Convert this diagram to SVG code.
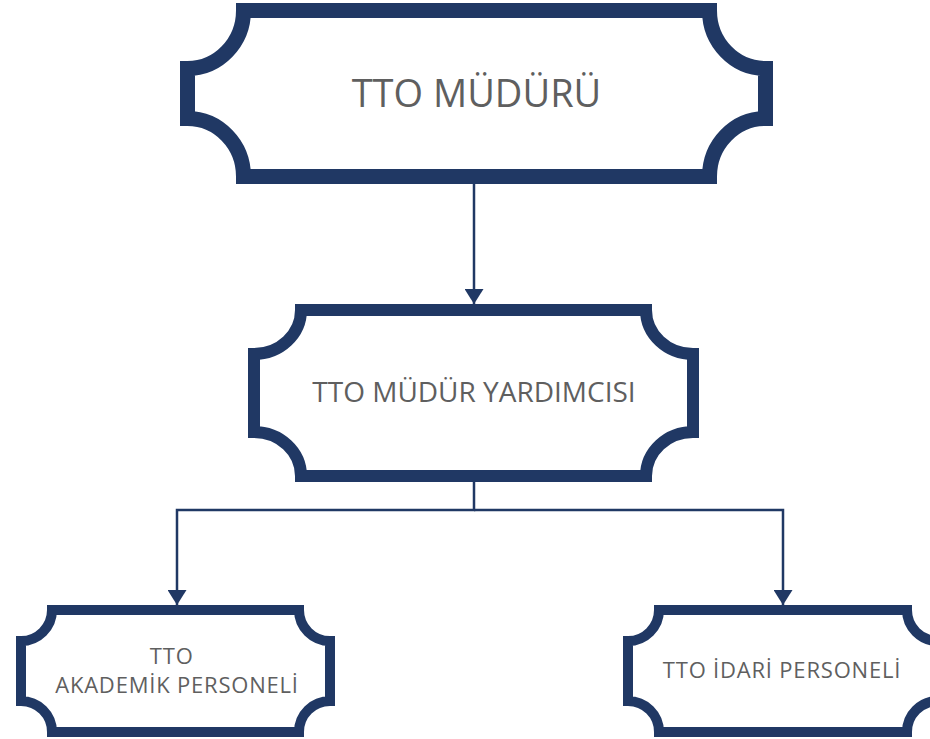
<svg xmlns="http://www.w3.org/2000/svg" width="930" height="739" viewBox="0 0 930 739">
  <style>
    .plaque { fill: #ffffff; stroke: #203864; stroke-linejoin: miter; }
    .conn { fill: none; stroke: #203864; stroke-width: 2.5; }
    .lbl { font-family: "Open Sans", "Noto Sans", "DejaVu Sans", sans-serif; fill: #5f5f5f; text-anchor: middle; }
  </style>
  <defs>
    <marker id="arrow" viewBox="0 0 15 19" markerWidth="15" markerHeight="19" refX="15" refY="9.5" orient="auto" markerUnits="userSpaceOnUse">
      <path d="M0,0 L15,9.5 L0,19 Z" fill="#203864"/>
    </marker>
  </defs>
  <rect width="930" height="739" fill="#ffffff"/>
  <g id="connectors">
    <path class="conn" d="M474,184 V304" marker-end="url(#arrow)"/>
    <path class="conn" d="M474,482 V510 H177 V605" marker-end="url(#arrow)"/>
    <path class="conn" d="M474,510 H783 V605" marker-end="url(#arrow)"/>
  </g>
  <g id="node-mudur">
    <path class="plaque" stroke-width="15" d="M243.5,10.5 H709.5 A56 58 0 0 0 765.5,68.5 V118.5 A56 58 0 0 0 709.5,176.5 H243.5 A56 58 0 0 0 187.5,118.5 V68.5 A56 58 0 0 0 243.5,10.5 Z"/>
    <text class="lbl" x="476.5" y="107" font-size="38">TTO MÜDÜRÜ</text>
  </g>
  <g id="node-yardimci">
    <path class="plaque" stroke-width="12" d="M301,310 H646 A47 44 0 0 0 693,354 V432 A47 44 0 0 0 646,476 H301 A47 44 0 0 0 254,432 V354 A47 44 0 0 0 301,310 Z"/>
    <text class="lbl" x="474" y="402" font-size="28">TTO MÜDÜR YARDIMCISI</text>
  </g>
  <g id="node-akademik">
    <path class="plaque" stroke-width="10" d="M52,610 H299 A31 31 0 0 0 330,641 V701 A31 31 0 0 0 299,732 H52 A31 31 0 0 0 21,701 V641 A31 31 0 0 0 52,610 Z"/>
    <text class="lbl" font-size="22" letter-spacing="0.8">
      <tspan x="175" y="664">TTO</tspan>
      <tspan x="177" y="693">AKADEMİK PERSONELİ</tspan>
    </text>
  </g>
  <g id="node-idari">
    <path class="plaque" stroke-width="10" d="M659,610 H907 A31 31 0 0 0 938,641 V701 A31 31 0 0 0 907,732 H659 A31 31 0 0 0 628,701 V641 A31 31 0 0 0 659,610 Z"/>
    <text class="lbl" x="782" y="678" font-size="22" letter-spacing="0.8">TTO İDARİ PERSONELİ</text>
  </g>
</svg>
